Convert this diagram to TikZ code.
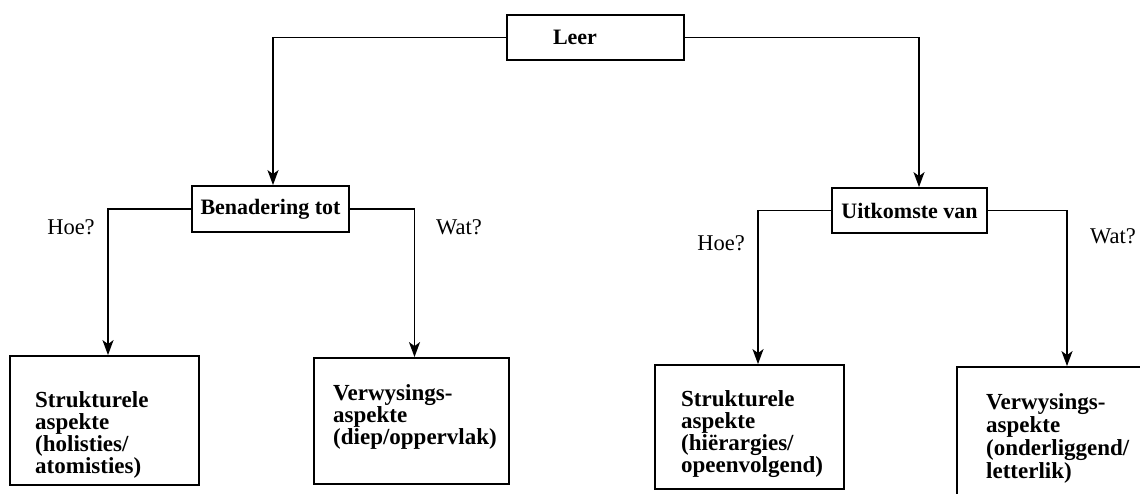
\documentclass[tikz,border=0pt]{standalone}
\usepackage{fontspec}
\setmainfont{Liberation Serif}
\usetikzlibrary{arrows.meta}
\begin{document}
\begin{tikzpicture}[x=1pt,y=-1pt,
  font=\fontsize{22}{22}\selectfont,
  box/.style={draw, line width=1.8pt, inner sep=0pt, font=\bfseries\fontsize{22}{22}\selectfont},
  conn/.style={line width=1.8pt, -{Stealth[length=15pt,width=11pt,inset=4pt]}},
  btxt/.style={anchor=north west, align=left, inner sep=0pt},
  qlab/.style={inner sep=0pt, font=\fontsize{22.5}{22}\selectfont}]
\useasboundingbox (0,0) rectangle (1140,493);
\clip (0,0) rectangle (1140,493);

% top box
\node[box, minimum height=45pt, text width=85pt, inner xsep=46pt, align=left] (leer) at (595.5,37.5) {Leer};

% middle boxes
\node[box, minimum width=157pt, minimum height=46pt] (ben) at (270.5,209) {Benadering tot};
\node[box, minimum width=155pt, minimum height=45pt] (uit) at (909.5,210.5) {Uitkomste van};

% bottom boxes
\node[box, minimum width=189pt, minimum height=129pt] (s1) at (104.5,420.5) {};
\node[box, minimum width=195pt, minimum height=126pt] (v1) at (411.5,421) {};
\node[box, minimum width=189pt, minimum height=124pt] (s2) at (749.5,427) {};
\node[box, minimum width=213pt, minimum height=143pt] (v2) at (1063.5,438.5) {};

% bottom box texts
\node[btxt, font=\bfseries\fontsize{23}{22}\selectfont] (s1t) at (35,391) {Strukturele\\aspekte\\(holisties/\\atomisties)};
\node[btxt, font=\bfseries\fontsize{23}{22}\selectfont] (v1t) at (333,384) {Verwysings-\\aspekte\\(diep/oppervlak)};
\node[btxt, font=\bfseries\fontsize{23}{22}\selectfont] (s2t) at (681,390) {Strukturele\\aspekte\\(hiërargies/\\opeenvolgend)};
\node[btxt, font=\bfseries\fontsize{23}{23}\selectfont] (v2t) at (986,393) {Verwysings-\\aspekte\\(onderliggend/\\letterlik)};

% question labels
\node[qlab] (hoe1) at (71,227) {Hoe?};
\node[qlab] (wat1) at (459,227) {Wat?};
\node[qlab] (hoe2) at (721,243) {Hoe?};
\node[qlab] (wat2) at (1113,236) {Wat?};

% connectors
\draw[conn] (leer.west) -| ([xshift=2.5pt]ben.north);
\draw[conn] (leer.east) -| ([xshift=9.5pt]uit.north);
\draw[conn] (ben.west) -| ([xshift=3.5pt]s1.north);
\draw[conn] (ben.east) -| ([xshift=3pt]v1.north);
\draw[conn] (uit.west) -| ([xshift=8.5pt]s2.north);
\draw[conn] (uit.east) -| ([xshift=3.5pt]v2.north);
\end{tikzpicture}
\end{document}
